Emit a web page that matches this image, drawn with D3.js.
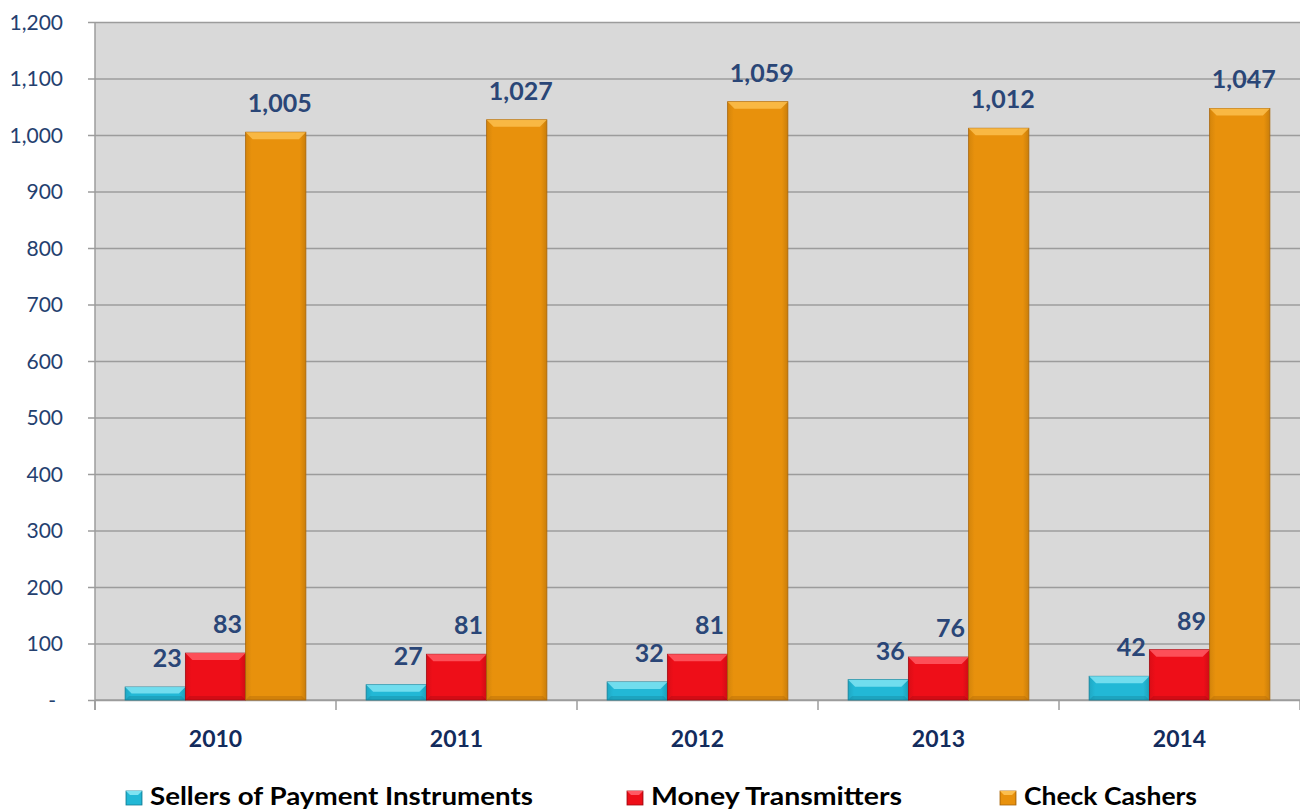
<!DOCTYPE html>
<html>
<head>
<meta charset="utf-8">
<script src="https://cdn.jsdelivr.net/npm/d3@7"></script>
<style>
	body { margin: 0; background: #fff; }
	svg { display: block; }
	svg text { font-family: Lato, "Open Sans", sans-serif; }
</style>
</head>
<body>
<svg id="chart" width="1300" height="810"></svg>
<script>
var years = [ '2010', '2011', '2012', '2013', '2014' ];
var seriesNames = [ 'Sellers of Payment Instruments', 'Money Transmitters', 'Check Cashers' ];
var sellers = [ 23, 27, 32, 36, 42 ];
var transmitters = [ 83, 81, 81, 76, 89 ];
var cashers = [ 1005, 1027, 1059, 1012, 1047 ];
var yTicks = [ 0, 100, 200, 300, 400, 500, 600, 700, 800, 900, 1000, 1100, 1200 ];

var colors = [
	{ body: '#22B8D6', light: '#7FE3F2', dark: '#137E96' },
	{ body: '#EE0E18', light: '#FF5A64', dark: '#A00810' },
	{ body: '#E8910C', light: '#FBBE4E', dark: '#A9650A' }
];

var margin = { left: 95, right: 0, top: 22, bottom: 110 };
var width = 1300, height = 810;

var svg = d3.select( '#chart' );

var x = d3.scaleBand()
	.domain( years )
	.range( [ margin.left, width - margin.right ] );

var x1 = d3.scaleBand()
	.domain( d3.range( 3 ) )
	.range( [ 0, x.bandwidth() ] )
	.paddingOuter( 0.5 );

var y = d3.scaleLinear()
	.domain( [ 0, 1200 ] )
	.range( [ height - margin.bottom, margin.top ] );

// plot background
svg.append( 'rect' )
	.attr( 'x', margin.left )
	.attr( 'y', y( 1200 ) )
	.attr( 'width', width - margin.left - margin.right )
	.attr( 'height', y( 0 ) - y( 1200 ) )
	.attr( 'fill', '#D9D9D9' );

// gridlines + y ticks
var yAxis = d3.axisLeft( y )
	.tickValues( yTicks )
	.tickSize( -( width - margin.left - margin.right ) )
	.tickFormat( '' );
var yg = svg.append( 'g' )
	.attr( 'transform', 'translate(' + margin.left + ',0)' )
	.call( yAxis );
yg.select( '.domain' ).remove();
yg.selectAll( '.tick line' )
	.attr( 'x1', -7 )
	.attr( 'stroke', '#9C9C9C' )
	.attr( 'stroke-width', 1.5 );

yg.selectAll( '.tick' ).append( 'text' )
	.attr( 'dy', '0.35em' )
	.attr( 'text-anchor', 'end' )
	.attr( 'fill', '#24406F' )
	.style( 'font-size', '21px' )
	.text( function ( d ) { return d === 0 ? '-' : d3.format( ',' )( d ); } )
	.attr( 'x', function ( d ) { return d === 0 ? -39 : -32; } );

// x axis line + ticks
var xg = svg.append( 'g' )
	.attr( 'transform', 'translate(0,' + y( 0 ) + ')' );
xg.append( 'line' )
	.attr( 'x1', margin.left ).attr( 'x2', width )
	.attr( 'stroke', '#9C9C9C' ).attr( 'stroke-width', 1.5 );
xg.selectAll( 'line.tk' )
	.data( years.concat( [ null ] ) )
	.enter()
	.append( 'line' )
	.classed( 'tk', true )
	.attr( 'x1', function ( d, i ) { return margin.left + i * x.step(); } )
	.attr( 'x2', function ( d, i ) { return margin.left + i * x.step(); } )
	.attr( 'y1', 0 ).attr( 'y2', 10 )
	.attr( 'stroke', '#9C9C9C' ).attr( 'stroke-width', 1.5 );
svg.append( 'line' )
	.attr( 'x1', margin.left ).attr( 'x2', margin.left )
	.attr( 'y1', y( 1200 ) ).attr( 'y2', y( 0 ) + 10 )
	.attr( 'stroke', '#9C9C9C' ).attr( 'stroke-width', 1.5 );

xg.selectAll( 'text' )
	.data( years )
	.enter()
	.append( 'text' )
	.attr( 'x', function ( d ) { return x( d ) + x.bandwidth() / 2; } )
	.attr( 'y', 47 )
	.attr( 'text-anchor', 'middle' )
	.attr( 'fill', '#132B5C' )
	.style( 'font-size', '23px' )
	.style( 'font-weight', 'bold' )
	.text( function ( d ) { return d; } );

// bars
var defs = svg.append( 'defs' );
colors.forEach( function ( c, i ) {
	var g = defs.append( 'linearGradient' ).attr( 'id', 'grad' + i )
		.attr( 'x1', 0 ).attr( 'x2', 1 ).attr( 'y1', 0 ).attr( 'y2', 0 );
	g.append( 'stop' ).attr( 'offset', '0%' ).attr( 'stop-color', d3.rgb( c.body ).darker( 0.25 ) );
	g.append( 'stop' ).attr( 'offset', '10%' ).attr( 'stop-color', c.body );
	g.append( 'stop' ).attr( 'offset', '90%' ).attr( 'stop-color', c.body );
	g.append( 'stop' ).attr( 'offset', '100%' ).attr( 'stop-color', d3.rgb( c.body ).darker( 0.4 ) );
} );

var data = years.map( function ( yr, i ) {
	return { year: yr, values: [ sellers[i], transmitters[i], cashers[i] ] };
} );

var groups = svg.selectAll( 'g.group' )
	.data( data )
	.enter()
	.append( 'g' )
	.classed( 'group', true )
	.attr( 'transform', function ( d ) { return 'translate(' + x( d.year ) + ',0)'; } );

var bars = groups.selectAll( 'g.bar' )
	.data( function ( d ) { return d.values.map( function ( v, s ) { return { v: v, s: s }; } ); } )
	.enter()
	.append( 'g' )
	.classed( 'bar', true );

bars.append( 'rect' )
	.attr( 'x', function ( d ) { return x1( d.s ); } )
	.attr( 'y', function ( d ) { return y( d.v ); } )
	.attr( 'width', x1.bandwidth() )
	.attr( 'height', function ( d ) { return y( 0 ) - y( d.v ); } )
	.attr( 'fill', function ( d ) { return 'url(#grad' + d.s + ')'; } )
	.attr( 'stroke', function ( d ) { return colors[d.s].dark; } )
	.attr( 'stroke-width', 0.8 );

// bevel top strip
bars.append( 'path' )
	.attr( 'd', function ( d ) {
		var x0 = x1( d.s ), w = x1.bandwidth(), t = y( d.v );
		var b = Math.min( 7, ( y( 0 ) - t ) / 2 );
		return 'M' + x0 + ',' + t + 'L' + ( x0 + w ) + ',' + t +
			'L' + ( x0 + w - b ) + ',' + ( t + b ) + 'L' + ( x0 + b ) + ',' + ( t + b ) + 'Z';
	} )
	.attr( 'fill', function ( d ) { return colors[d.s].light; } )
	.attr( 'opacity', 0.85 );

// bevel bottom strip
bars.append( 'path' )
	.attr( 'd', function ( d ) {
		var x0 = x1( d.s ), w = x1.bandwidth(), bt = y( 0 );
		var b = Math.min( 4, ( bt - y( d.v ) ) / 3 );
		return 'M' + x0 + ',' + bt + 'L' + ( x0 + w ) + ',' + bt +
			'L' + ( x0 + w - b ) + ',' + ( bt - b ) + 'L' + ( x0 + b ) + ',' + ( bt - b ) + 'Z';
	} )
	.attr( 'fill', function ( d ) { return colors[d.s].dark; } )
	.attr( 'opacity', 0.35 );

bars.append( 'text' )
	.attr( 'x', function ( d ) { return x1( d.s ) + x1.bandwidth() / 2 + ( d.s === 2 ? 4 : 12 ); } )
	.attr( 'y', function ( d ) { return y( d.v ) - 20; } )
	.attr( 'text-anchor', 'middle' )
	.attr( 'fill', '#2A4677' )
	.style( 'font-size', '25px' )
	.style( 'font-weight', 'bold' )
	.text( function ( d ) { return d3.format( ',' )( d.v ); } );

// legend
var legendX = [ 126, 627, 1000 ];
var legendW = [ 383, 251, 173 ];
var legend = svg.selectAll( 'g.legend' )
	.data( seriesNames )
	.enter()
	.append( 'g' )
	.classed( 'legend', true )
	.attr( 'transform', function ( d, i ) { return 'translate(' + legendX[i] + ',805)'; } );

legend.append( 'rect' )
	.attr( 'x', 0 ).attr( 'y', -14 )
	.attr( 'width', 16 ).attr( 'height', 14 )
	.attr( 'fill', function ( d, i ) { return 'url(#grad' + i + ')'; } )
	.attr( 'stroke', function ( d, i ) { return colors[i].dark; } )
	.attr( 'stroke-width', 0.8 );
legend.append( 'path' )
	.attr( 'd', 'M0,-14L16,-14L12,-10L4,-10Z' )
	.attr( 'fill', function ( d, i ) { return colors[i].light; } );

legend.append( 'text' )
	.attr( 'x', 24 )
	.attr( 'y', 0 )
	.attr( 'fill', '#000' )
	.style( 'font-size', '25px' )
	.style( 'font-weight', 'bold' )
	.attr( 'textLength', function ( d, i ) { return legendW[i]; } )
	.attr( 'lengthAdjust', 'spacingAndGlyphs' )
	.text( function ( d ) { return d; } );
</script>
</body>
</html>
